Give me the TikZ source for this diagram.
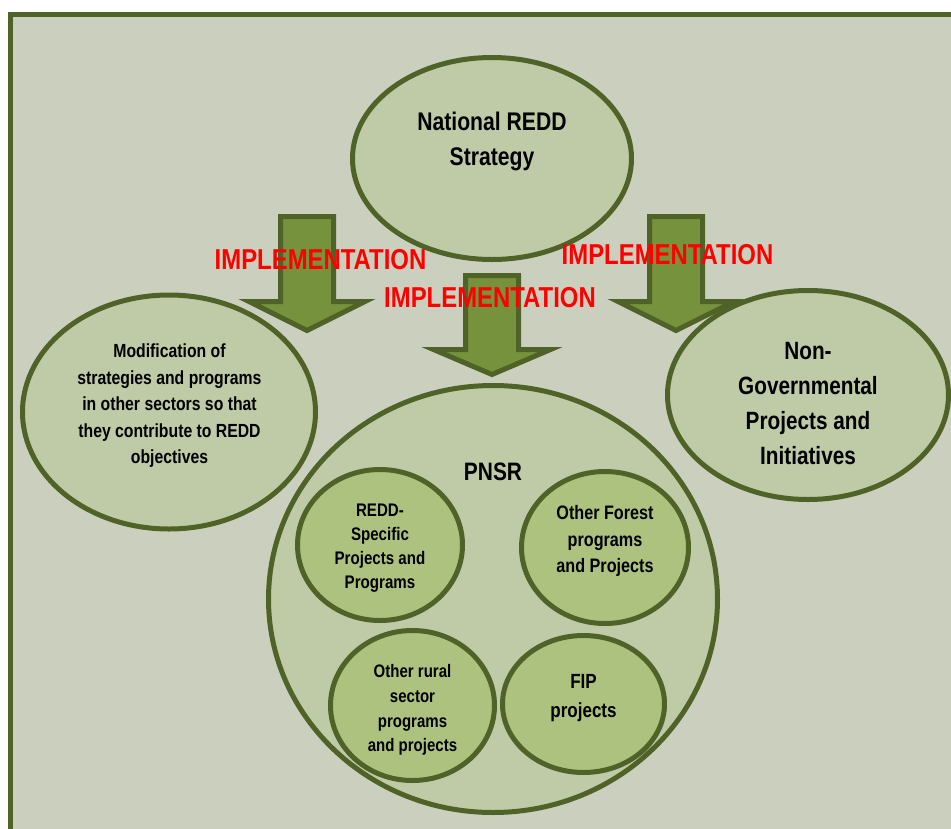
\documentclass[tikz,border=0pt]{standalone}
\usepackage{fontspec}
\setmainfont{Liberation Sans}[FakeStretch=0.83]
\usetikzlibrary{shapes.geometric}
\definecolor{bgcol}{RGB}{203,207,189}
\definecolor{ellfill}{RGB}{191,203,166}
\definecolor{incfill}{RGB}{174,194,127}
\definecolor{olivedark}{RGB}{79,98,40}
\definecolor{arrowfill}{RGB}{119,146,60}
\definecolor{implred}{RGB}{255,0,0}
\tikzset{
  bigell/.style={ellipse, draw=olivedark, line width=5pt, fill=ellfill, inner sep=0pt},
  incirc/.style={ellipse, draw=olivedark, line width=5pt, fill=incfill, inner sep=0pt},
  blockarr/.style={draw=olivedark, line width=5pt, fill=arrowfill, line join=miter},
  impl/.style={text=implred, font=\bfseries\fontsize{28.8}{32}\selectfont, inner sep=0pt},
  lbl/.style={align=center, inner sep=0pt, text=black},
  frameline/.style={draw=olivedark, line width=5pt, fill=bgcol}
}
\begin{document}
\begin{tikzpicture}[x=1pt,y=-1pt]
\useasboundingbox (0,0) rectangle (951,828);
\fill[white] (0,0) rectangle (951,828);
\begin{scope}
\clip (0,0) rectangle (951,828);
\draw[frameline] (10,14.8) rectangle (990,870);

% ellipses
\node[bigell, minimum width=279pt, minimum height=202pt] (nat) at (492,158.5) {};
\node[bigell, minimum width=293pt, minimum height=234pt] (mod) at (169,412) {};
\node[bigell, minimum width=281pt, minimum height=209pt] (ngo) at (808,395) {};
\node[bigell, minimum width=449pt, minimum height=427pt] (pnsr) at (493,599) {};

% inner circles
\node[incirc, minimum width=165pt, minimum height=151pt] (redd) at (380,545) {};
\node[incirc, minimum width=167pt, minimum height=152pt] (forest) at (605,547.5) {};
\node[incirc, minimum width=164pt, minimum height=150pt] (rural) at (412.5,705.5) {};
\node[incirc, minimum width=162pt, minimum height=137pt] (fip) at (583.5,704) {};

% block arrows
\draw[blockarr] (280.5,216.5) -- (333.5,216.5) -- (333.5,301.5) -- (365,301.5) -- (307,330.5) -- (249,301.5) -- (280.5,301.5) -- cycle;
\draw[blockarr] (465.5,275.5) -- (518.5,275.5) -- (518.5,349.5) -- (550.5,349.5) -- (492,374.5) -- (433.5,349.5) -- (465.5,349.5) -- cycle;
\draw[blockarr] (649.5,216.5) -- (702.5,216.5) -- (702.5,301.5) -- (734,301.5) -- (676,330.5) -- (618,301.5) -- (649.5,301.5) -- cycle;

% texts
\node[lbl, font=\bfseries\fontsize{25.5}{35}\selectfont] (natT) at (492,141) {National REDD\\Strategy};
\node[lbl, font=\bfseries\fontsize{19}{26.5}\selectfont] (modT) at (169.5,406) {Modification of\\strategies and programs\\in other sectors so that\\they contribute to REDD\\objectives};
\node[lbl, font=\bfseries\fontsize{25}{35}\selectfont] (ngoT) at (808,404) {Non-\\Governmental\\Projects and\\Initiatives};
\node[lbl, font=\bfseries\fontsize{25.2}{30}\selectfont] (pnsrT) at (493,472) {PNSR};
\node[lbl, font=\bfseries\fontsize{18.2}{24}\selectfont] (reddT) at (380,548) {REDD-\\Specific\\Projects and\\Programs};
\node[lbl, font=\bfseries\fontsize{19.5}{26.5}\selectfont] (forestT) at (605,541) {Other Forest\\programs\\and Projects};
\node[lbl, font=\bfseries\fontsize{18.1}{24.7}\selectfont] (ruralT) at (412.5,710) {Other rural\\sector\\programs\\and projects};
\node[lbl, font=\bfseries\fontsize{20.5}{29}\selectfont] (fipT) at (583.5,698) {FIP\\projects};

\node[impl] (impl1) at (320.5,259.5) {IMPLEMENTATION};
\node[impl] (impl2) at (490,298) {IMPLEMENTATION};
\node[impl] (impl3) at (667.5,255) {IMPLEMENTATION};
\end{scope}
\end{tikzpicture}
\end{document}
